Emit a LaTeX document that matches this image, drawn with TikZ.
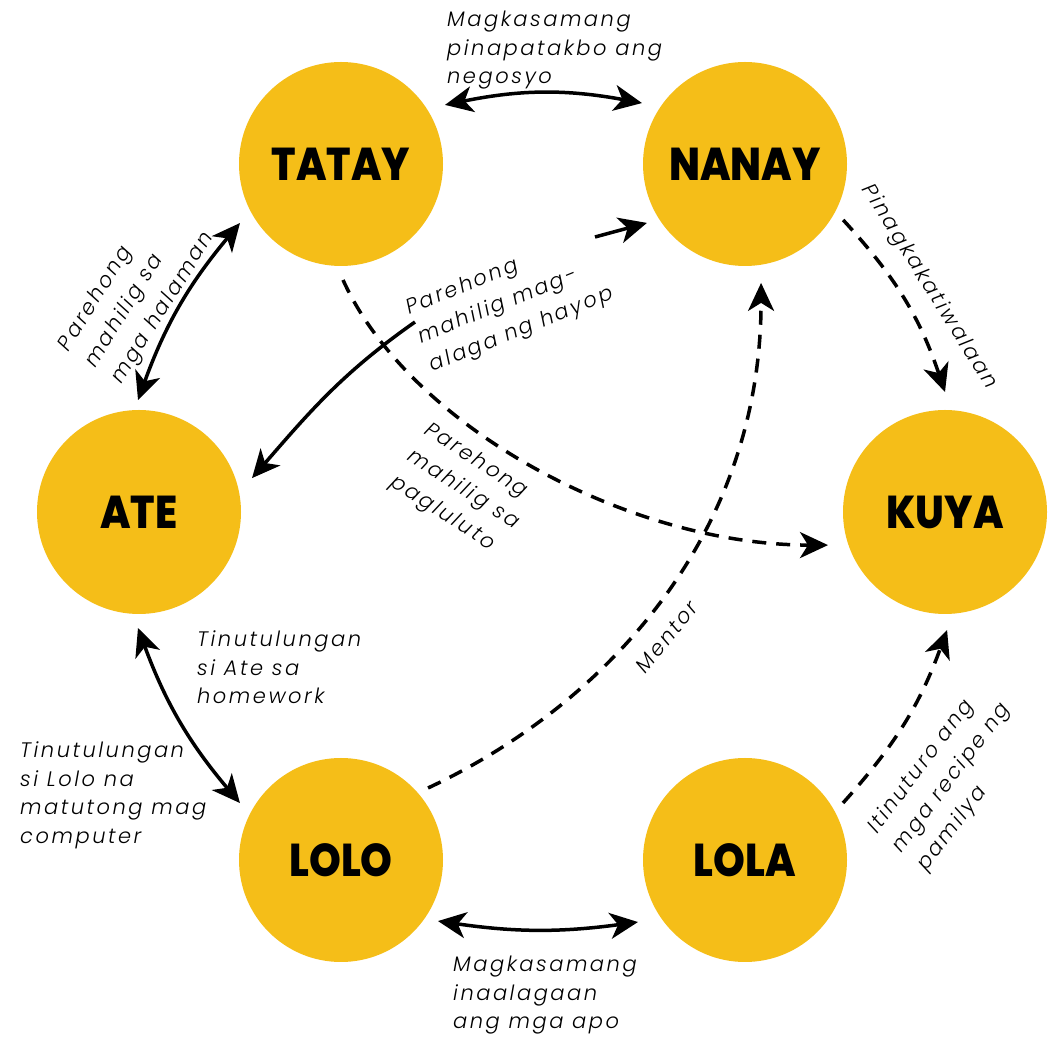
\documentclass[tikz,border=0pt]{standalone}
\usepackage{fontspec}
\usetikzlibrary{arrows.meta,calc}
\newfontfamily\lblfont{Poppins Light Italic}[LetterSpace=12]
\newfontfamily\nodefont{Poppins ExtraBold}[FakeStretch=0.88]
\definecolor{fam}{HTML}{F5BE18}
\begin{document}
\begin{tikzpicture}[x=1pt,y=1pt,
  >={Stealth[length=28pt,width=26pt,inset=8pt]},
  person/.style={circle,fill=fam,minimum size=204pt,inner sep=0pt,outer sep=0pt,
    font=\nodefont\fontsize{46}{46}\selectfont},
  rel/.style={line width=3.5pt},
  relD/.style={line width=3.5pt,dash pattern=on 14pt off 10pt},
  lbl/.style={font=\lblfont\fontsize{21}{28.5}\selectfont,inner sep=0pt,align=left},
  rlbl/.style={font=\lblfont\fontsize{21}{31}\selectfont,inner sep=0pt,align=left}]
\useasboundingbox[fill=white] (0,0) rectangle (1052,1036);

% people
\node[person] (TATAY) at (341,872) {TATAY};
\node[person] (NANAY) at (745,872) {NANAY};
\node[person] (ATE)   at (139,524) {ATE};
\node[person] (KUYA)  at (945,524) {KUYA};
\node[person] (LOLO)  at (341,176) {LOLO};
\node[person] (LOLA)  at (745,176) {LOLA};

% solid two-way relations
\draw[rel,<->] ($(TATAY)+(29.6:119.6)$) to[bend left=11] ($(NANAY)+(149.4:119.7)$);
\draw[rel,<->] ($(TATAY)+(210.3:117)$) to[bend right=10] ($(ATE)+(90.5:112)$);
\draw[rel,<->] ($(ATE)+(269.5:116)$) to[bend right=10] ($(LOLO)+(150.6:116)$);
\draw[rel,<->] ($(LOLO)+(-32.2:114.6)$) to[bend right=8] ($(LOLA)+(210.1:123.7)$);

% ATE <-> NANAY (interrupted by its label)
\coordinate (h1) at (415,714);
\coordinate (h2) at (595,799);
\draw[rel,->] (h1) to[out=215,in=49] ($(ATE)+(16.7:118)$);
\draw[rel,->] (h2) -- ($(NANAY)+(211:114.4)$);

% dashed relations
\draw[relD,->] ($(NANAY)+(-29.7:113)$) to[bend left=12] ($(KUYA)+(90:120)$);
\draw[relD,->] ($(LOLA)+(30.2:113.4)$) to[bend right=11] ($(KUYA)+(271:118)$);
\draw[relD,->] ($(TATAY)+(-89:116)$) .. controls (409,610) and (628,491) .. ($(KUYA)+(195.8:121.6)$);
\draw[relD,->] ($(LOLO)+(39.6:113)$) .. controls (609,333) and (761,503) .. ($(NANAY)+(-82.3:120)$);

% labels
\node[lbl,anchor=north west] (l1) at (447,1025) {Magkasamang\\pinapatakbo ang\\negosyo};
\node[lbl,anchor=north west] (l2) at (197,405) {Tinutulungan\\si Ate sa\\homework};
\node[lbl,anchor=north west] (l3) at (20,294) {Tinutulungan\\si Lolo na\\matutong mag\\computer};
\node[lbl,anchor=north west] (l4) at (453,80) {Magkasamang\\inaalagaan\\ang mga apo};
\node[rlbl,rotate=58] (l5) at (137,744) {Parehong\\mahilig sa\\mga halaman};
\node[rlbl,rotate=22] (l6) at (510,734) {Parehong\\mahilig mag-\\alaga ng hayop};
\node[rlbl,rotate=-33] (l7) at (463,546) {Parehong\\mahilig sa\\pagluluto};
\node[rlbl,rotate=51] (l8) at (667,399) {Mentor};
\node[rlbl,rotate=-58] (l9) at (929,749) {Pinagkakatiwalaan};
\node[rlbl,rotate=53] (l10) at (952,258) {Itinuturo ang\\mga recipe ng\\pamilya};
\end{tikzpicture}
\end{document}
